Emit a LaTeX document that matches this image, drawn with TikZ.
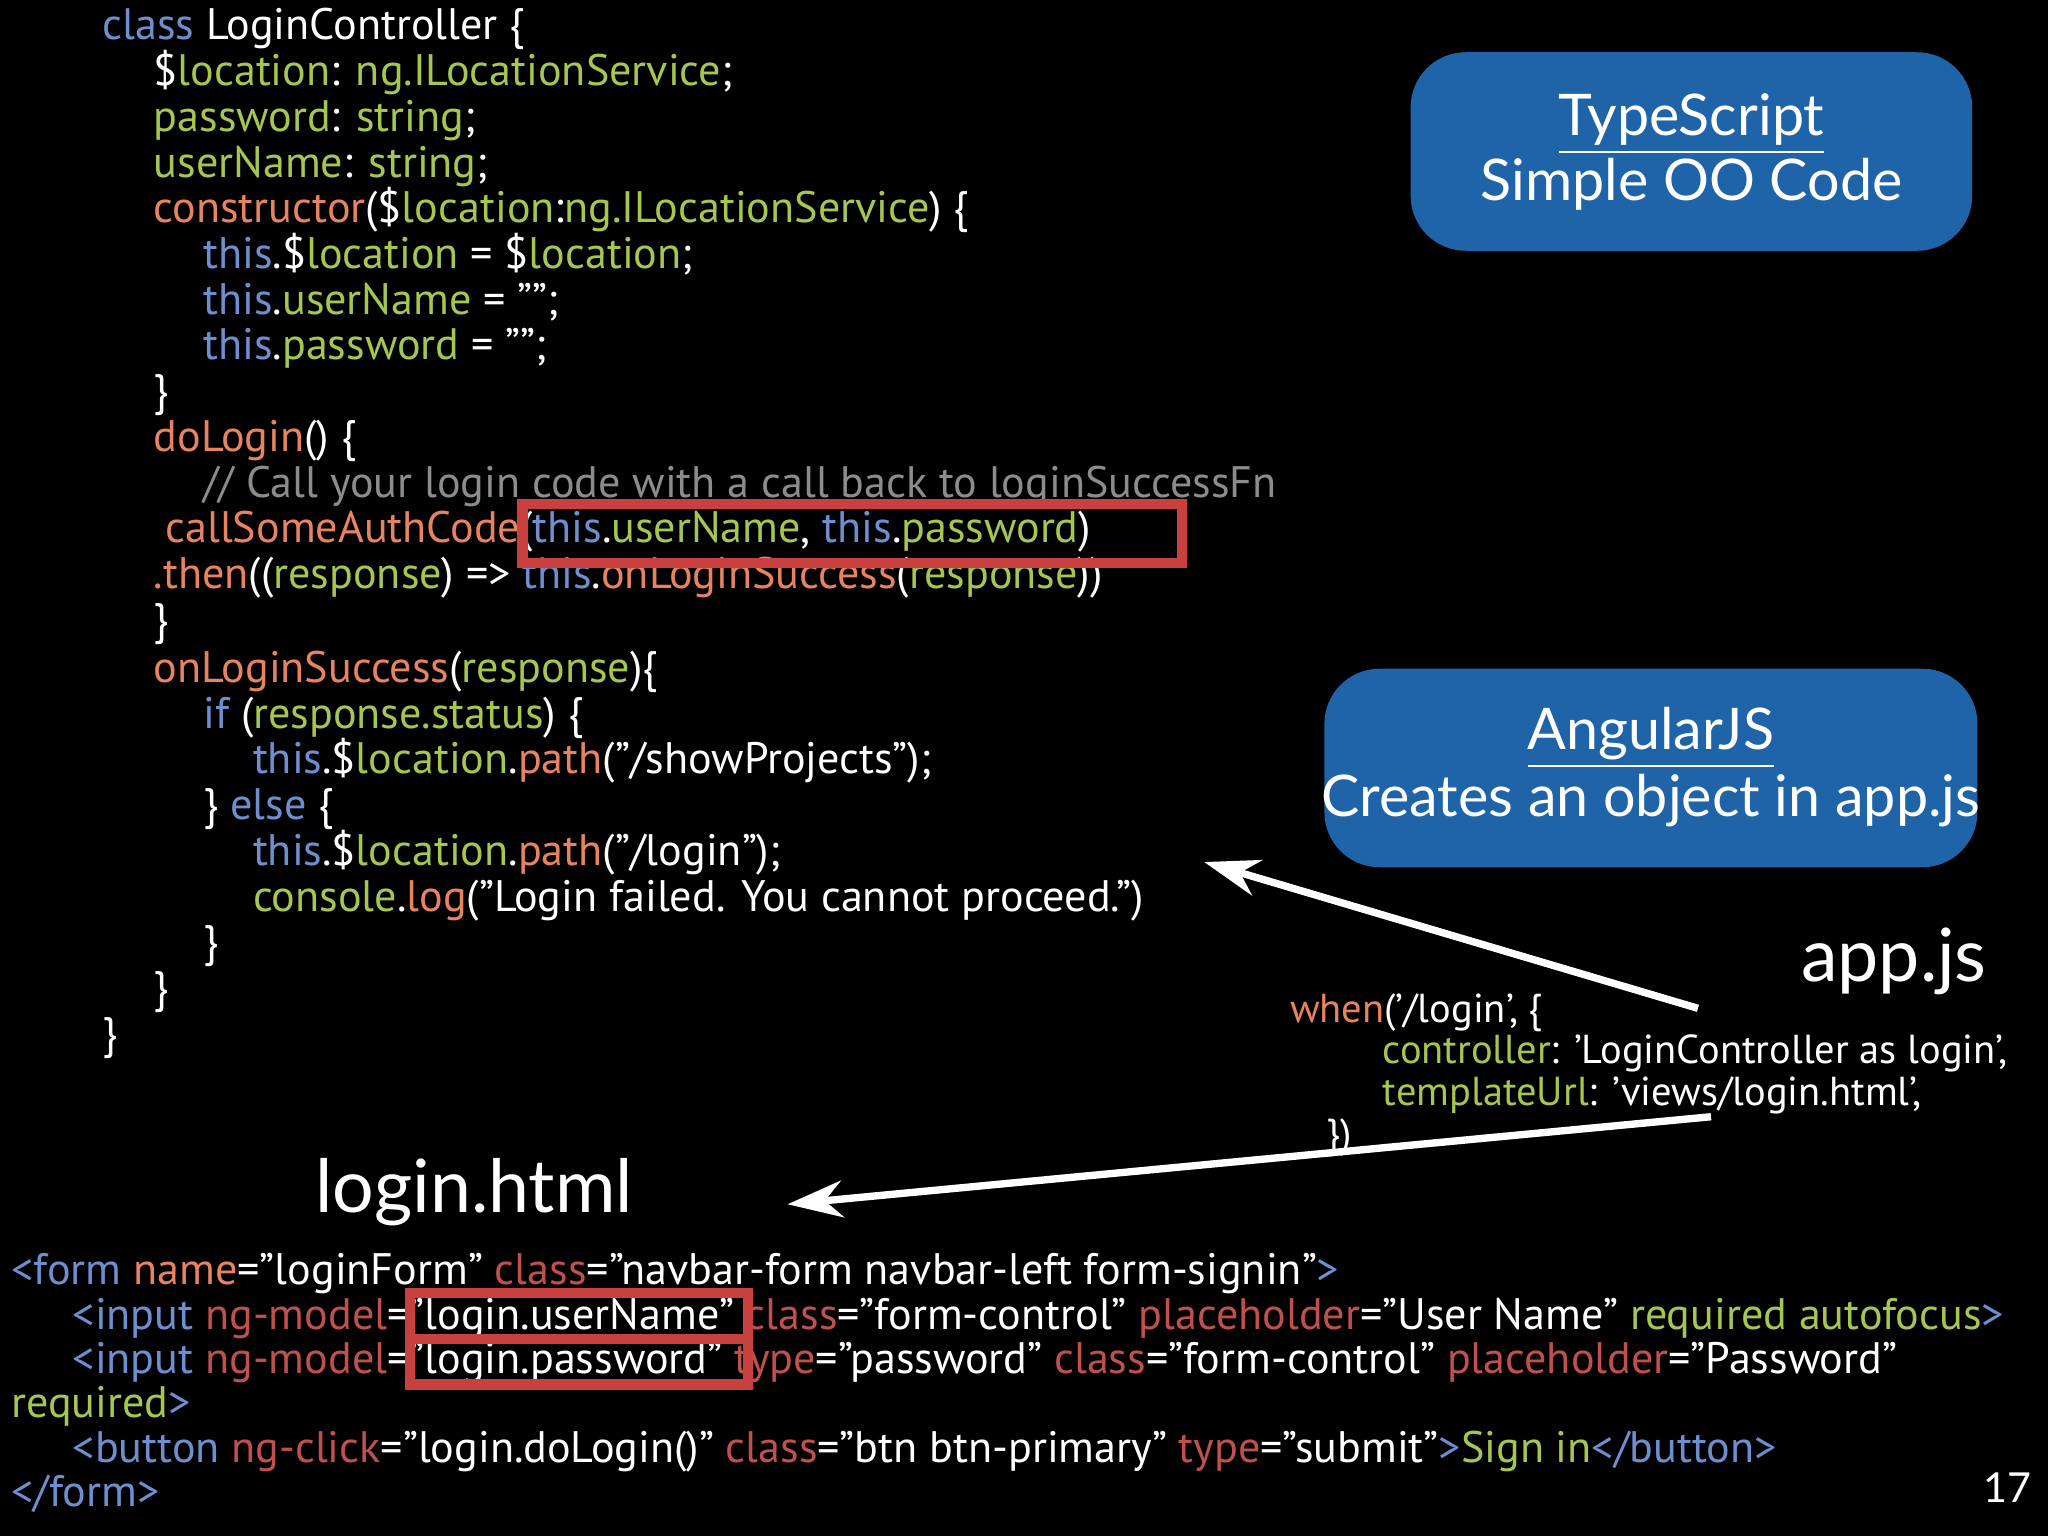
\documentclass[tikz,border=0pt]{standalone}
\usepackage{fontspec}
\setmainfont{PT Sans}
\newfontfamily\hel{Lato}
\usetikzlibrary{arrows.meta}
\definecolor{kw}{HTML}{6E8FCF}
\definecolor{fld}{HTML}{A5C64F}
\definecolor{fnc}{HTML}{E7845F}
\definecolor{cmt}{HTML}{8C8C8C}
\definecolor{atr}{HTML}{C0504D}
\definecolor{boxb}{HTML}{1F64A8}
\definecolor{redb}{HTML}{C9413F}
\newcommand\ckw[1]{\textcolor{kw}{#1}}
\newcommand\cfl[1]{\textcolor{fld}{#1}}
\newcommand\cfn[1]{\textcolor{fnc}{#1}}
\newcommand\ccm[1]{\textcolor{cmt}{#1}}
\newcommand\cat[1]{\textcolor{atr}{#1}}
\begin{document}
\begin{tikzpicture}[x=0.01cm,y=-0.01cm,
  code/.style={anchor=west,inner sep=0pt,text=white,font=\fontsize{9.6}{11}\selectfont,text height=1.6ex,text depth=.4ex},
  small/.style={code,font=\fontsize{8.8}{10}\selectfont},
  big/.style={anchor=center,text=white,font=\hel\fontsize{16}{18}\selectfont},
  bbox/.style={fill=boxb,rounded corners=12pt,draw=none},
  btxt/.style={text=white,font=\hel\fontsize{12.5}{14}\selectfont,anchor=center},
  rbox/.style={draw=redb,line width=2.2pt},
  arr/.style={white,line width=1.6pt,-{Stealth[length=12pt,width=8pt]}}]
\fill[black] (0,0) rectangle (1568,1176);
% TypeScript code
\node[code] (l1) at (78,20) {\ckw{class} LoginController \{};
\node[code] (l2) at (117,55) {\$\cfl{location}: \cfl{ng.ILocationService};};
\node[code] (l3) at (117,90) {\cfl{password}: \cfl{string};};
\node[code] (l4) at (117,125) {\cfl{userName}: \cfl{string};};
\node[code] (l5) at (117,160) {\cfn{constructor}(\$\cfl{location}:\cfl{ng.ILocationService}) \{};
\node[code] (l6) at (155,195) {\ckw{this}.\$\cfl{location} = \$\cfl{location};};
\node[code] (l7) at (155,230) {\ckw{this}.\cfl{userName} = "";};
\node[code] (l8) at (155,265) {\ckw{this}.\cfl{password} = "";};
\node[code] (l9) at (117,300) {\}};
\node[code] (l10) at (117,335) {\cfn{doLogin}() \{};
\node[code] (l11) at (155,370) {\ccm{// Call your login code with a call back to loginSuccessFn}};
\node[code] (l12) at (126,405) {\cfn{callSomeAuthCode}(\ckw{this}.\cfl{userName}, \ckw{this}.\cfl{password})};
\node[code] (l13) at (117,440) {\cfn{.then}((\cfl{response}) => \ckw{this}.\cfn{onLoginSuccess}(\cfl{response}))};
\node[code] (l14) at (117,475) {\}};
\node[code] (l15) at (117,512) {\cfn{onLoginSuccess}(\cfl{response})\{};
\node[code] (l16) at (155,547) {\ckw{if} (\cfl{response.status}) \{};
\node[code] (l17) at (193,582) {\ckw{this}.\$\cfl{location}.\cfn{path}("/showProjects");};
\node[code] (l18) at (155,617) {\} \ckw{else} \{};
\node[code] (l19) at (193,652) {\ckw{this}.\$\cfl{location}.\cfn{path}("/login");};
\node[code] (l20) at (193,687) {\cfl{console}.\cfn{log}("Login failed. You cannot proceed.")};
\node[code] (l21) at (155,722) {\}};
\node[code] (l22) at (117,757) {\}};
\node[code] (l23) at (78,792) {\}};
\draw[rbox] (400,386) rectangle (905,431);
% boxes
\fill[bbox] (1080,40) rectangle (1510,192);
\node[btxt] (t1) at (1295,95) {\underline{TypeScript}};
\node[btxt] (t2) at (1295,141) {Simple OO Code};
\fill[bbox] (1014,512) rectangle (1514,664);
\node[btxt] (a1) at (1264,565) {\underline{AngularJS}};
\node[btxt] (a2) at (1264,613) {Creates an object in app.js};
% app.js
\node[big] (appjs) at (1450,736) {app.js};
\node[small] (w1) at (987,772) {\cfn{when}('/login', \{};
\node[small] (w2) at (1058,804) {\cfl{controller}: 'LoginController as login',};
\node[small] (w3) at (1058,836) {\cfl{templateUrl}: 'views/login.html',};
\node[small] (w4) at (1015,868) {\})};
\coordinate (s1) at (1300,772);
\coordinate (e1) at (922,660);
\coordinate (s2) at (1310,855);
\coordinate (e2) at (603,922);
\draw[arr] (s1) -- (e1);
\draw[arr] (s2) -- (e2);
% login.html
\node[big] (lh) at (363,913) {login.html};
\node[code] (h1) at (8,973) {\ckw{<form} \cfn{name}=''loginForm'' \cat{class}=''navbar-form navbar-left form-signin''\ckw{>}};
\node[code] (h2) at (55,1007) {\ckw{<input} \cat{ng-model}=''login.userName'' \cat{class}=''form-control'' \cat{placeholder}=''User Name'' \cfl{required autofocus}\ckw{>}};
\node[code] (h3) at (55,1041) {\ckw{<input} \cat{ng-model}=''login.password'' \cat{type}=''password'' \cat{class}=''form-control'' \cat{placeholder}=''Password''};
\node[code] (h4) at (8,1075) {\cfl{required}\ckw{>}};
\node[code] (h5) at (55,1109) {\ckw{<button} \cat{ng-click}=''login.doLogin()'' \cat{class}=''btn btn-primary'' \cat{type}=''submit''\ckw{>}\cfl{Sign in}\ckw{</button>}};
\node[code] (h6) at (8,1143) {\ckw{</form>}};
\draw[rbox] (314,990) rectangle (573,1025);
\draw[rbox] (314,1025) rectangle (573,1060);
\node[code,font=\hel\fontsize{9}{10}\selectfont,anchor=center] (pg) at (1537,1140) {17};
\end{tikzpicture}
\end{document}
